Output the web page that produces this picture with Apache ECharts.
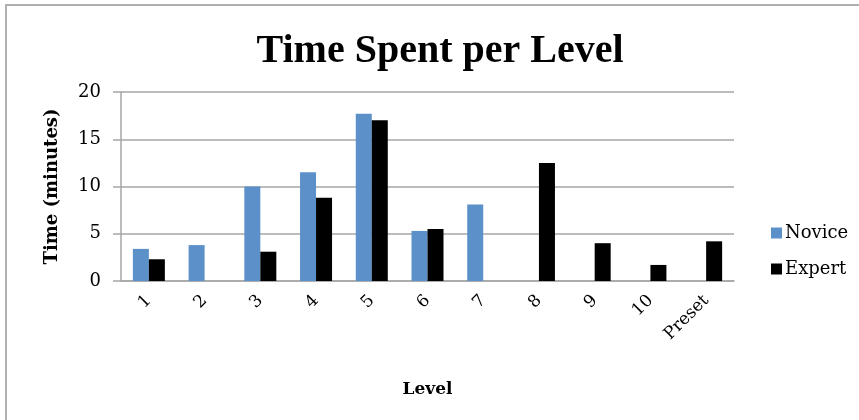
<!DOCTYPE html>
<html>
<head>
<meta charset="utf-8">
<script src="https://cdn.jsdelivr.net/npm/echarts@6/dist/echarts.min.js"></script>
<style>
  html, body { margin: 0; padding: 0; background: #ffffff; }
  #chart { width: 859px; height: 420px; }
</style>
</head>
<body>
<div id="chart"></div>
<script>
// Levels along the x axis
const levels = ['1', '2', '3', '4', '5', '6', '7', '8', '9', '10', 'Preset'];
// Minutes spent per level
const novice = [3.4, 3.8, 10.0, 11.5, 17.7, 5.3, 8.1, 0, 0, 0, 0];
const expert = [2.3, 0, 3.1, 8.8, 17.0, 5.5, 0, 12.5, 4.0, 1.7, 4.2];
// Value axis ticks
const yTicks = [0, 5, 10, 15, 20];

const serif = '"DejaVu Serif", "Liberation Serif", serif';
const titleFont = '"Liberation Serif", serif';
const gridGray = '#a6a6a6';

const chart = echarts.init(document.getElementById('chart'), null, { renderer: 'canvas' });
chart.setOption({
  backgroundColor: '#ffffff',
  animation: false,
  graphic: [{
    type: 'rect',
    shape: { x: 6, y: 5, width: 900, height: 460 },
    style: { fill: 'none', stroke: '#b0b0b0', lineWidth: 2 },
    silent: true
  }],
  title: {
    text: 'Time Spent per Level',
    left: 435,
    textAlign: 'center',
    top: 27,
    textStyle: { fontFamily: titleFont, fontWeight: 'bold', fontSize: 40, color: '#000' }
  },
  legend: {
    orient: 'vertical',
    left: 766,
    top: 219,
    itemWidth: 11,
    itemHeight: 11,
    itemGap: 18,
    icon: 'rect',
    textStyle: { fontFamily: serif, fontSize: 18, color: '#000', padding: [0, 0, 0, -2] },
    data: ['Novice', 'Expert']
  },
  grid: { left: 121, right: 125, top: 92, bottom: 139, containLabel: false },
  xAxis: {
    type: 'category',
    data: levels,
    name: 'Level',
    nameLocation: 'middle',
    nameGap: 100,
    nameTextStyle: { fontFamily: serif, fontWeight: 'bold', fontSize: 17, color: '#000' },
    axisLine: { lineStyle: { color: gridGray, width: 1.5 } },
    axisTick: { show: false },
    axisLabel: {
      rotate: 45,
      margin: 17,
      fontFamily: serif,
      fontSize: 17,
      color: '#000'
    }
  },
  yAxis: {
    type: 'value',
    min: yTicks[0],
    max: yTicks[yTicks.length - 1],
    interval: yTicks[1] - yTicks[0],
    name: 'Time (minutes)',
    nameLocation: 'middle',
    nameGap: 60,
    nameRotate: 90,
    nameTextStyle: { fontFamily: serif, fontWeight: 'bold', fontSize: 18, color: '#000' },
    axisLine: { show: true, lineStyle: { color: gridGray, width: 1.5 } },
    axisTick: { show: true, length: 8, lineStyle: { color: gridGray, width: 1.5 } },
    splitLine: { lineStyle: { color: gridGray, width: 1.5 } },
    axisLabel: { margin: 20, fontFamily: serif, fontSize: 18, color: '#000' }
  },
  series: [
    {
      name: 'Novice',
      type: 'bar',
      data: novice,
      barWidth: 16,
      barGap: '0%',
      itemStyle: { color: '#5b90c8' }
    },
    {
      name: 'Expert',
      type: 'bar',
      data: expert,
      barWidth: 16,
      barGap: '0%',
      itemStyle: { color: '#000000' }
    }
  ]
});
</script>
</body>
</html>
